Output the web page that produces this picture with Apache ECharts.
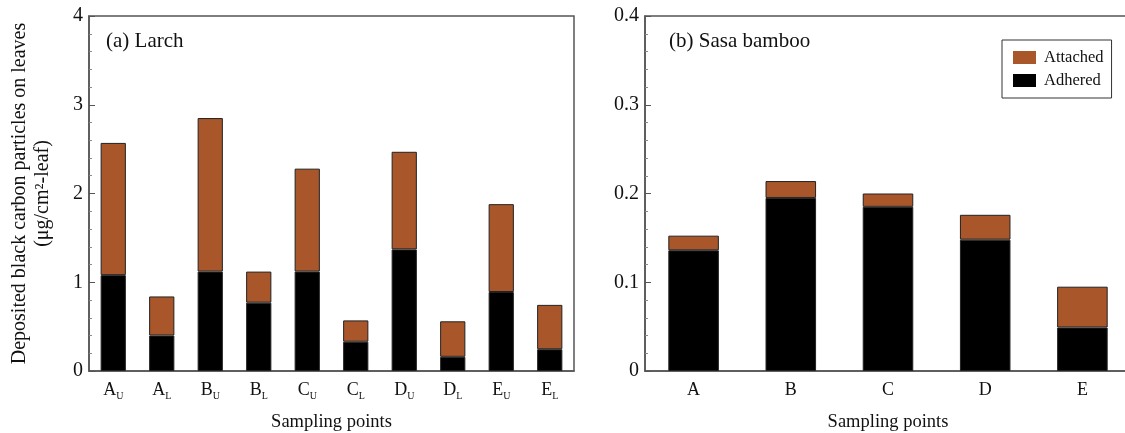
<!DOCTYPE html>
<html>
<head>
<meta charset="utf-8">
<script src="https://cdn.jsdelivr.net/npm/echarts@6/dist/echarts.min.js"></script>
<style>
  html, body { margin: 0; padding: 0; background: #fff; }
  #chart { width: 1125px; height: 433px; }
</style>
</head>
<body>
<div id="chart"></div>
<script>
// (a) Larch
const larchSites = ['A', 'A', 'B', 'B', 'C', 'C', 'D', 'D', 'E', 'E'];
const larchLevels = ['U', 'L', 'U', 'L', 'U', 'L', 'U', 'L', 'U', 'L'];
const larchAdhered = [1.08, 0.40, 1.12, 0.77, 1.12, 0.33, 1.37, 0.16, 0.89, 0.245];
const larchAttached = [1.49, 0.44, 1.73, 0.35, 1.16, 0.24, 1.10, 0.40, 0.99, 0.50];

// (b) Sasa bamboo
const sasaSites = ['A', 'B', 'C', 'D', 'E'];
const sasaAdhered = [0.136, 0.195, 0.185, 0.148, 0.049];
const sasaAttached = [0.0165, 0.019, 0.015, 0.028, 0.046];

const larchCats = larchSites.map((s, i) => s + '_' + larchLevels[i]);

const serif = '"Liberation Serif", "DejaVu Serif", serif';
const brown = '#A9572A';
const black = '#000000';
const frame = '#555555';

const chart = echarts.init(document.getElementById('chart'));

const valueAxisBase = {
  type: 'value',
  min: 0,
  axisLine: { show: true, lineStyle: { color: frame, width: 1.5 } },
  axisTick: { show: true, inside: true, length: 6, lineStyle: { color: frame } },
  minorTick: { show: true, splitNumber: 5, length: 3, lineStyle: { color: '#888' } },
  splitLine: { show: false },
  axisLabel: { color: '#111', fontFamily: serif, fontSize: 20, margin: 6 }
};

const catAxisBase = {
  type: 'category',
  axisLine: { show: true, lineStyle: { color: frame, width: 1.5 } },
  axisTick: { show: false },
  name: 'Sampling points',
  nameLocation: 'middle',
  nameGap: 42,
  nameTextStyle: { color: '#111', fontFamily: serif, fontSize: 18.5 }
};

const barBorder = { borderColor: '#222', borderWidth: 1 };

const option = {
  animation: false,
  textStyle: { fontFamily: serif },
  grid: [
    { left: 89, right: 551, top: 16, bottom: 62, show: true, borderColor: frame, borderWidth: 1.5, outerBoundsMode: 'none' },
    { left: 645, right: -6, top: 16, bottom: 62, show: true, borderColor: frame, borderWidth: 1.5, outerBoundsMode: 'none' }
  ],
  title: [
    { text: '(a) Larch', left: 101, top: 26, textStyle: { fontFamily: serif, fontSize: 21, fontWeight: 'normal', color: '#111' } },
    { text: '(b) Sasa bamboo', left: 664, top: 26, textStyle: { fontFamily: serif, fontSize: 21, fontWeight: 'normal', color: '#111' } }
  ],
  legend: {
    orient: 'vertical',
    left: 1002,
    top: 40,
    data: ['Attached', 'Adhered'],
    icon: 'rect',
    itemWidth: 23,
    itemHeight: 13,
    itemGap: 6,
    padding: [9, 8, 9, 11],
    borderColor: '#333',
    borderWidth: 1,
    itemStyle: { borderWidth: 0 },
    textStyle: { fontFamily: serif, fontSize: 16.5, color: '#111', padding: [0, 0, 0, 3] }
  },
  xAxis: [
    Object.assign({}, catAxisBase, {
      gridIndex: 0,
      data: larchCats,
      axisLabel: {
        interval: 0,
        margin: 10,
        formatter: v => {
          const p = v.split('_');
          return '{m|' + p[0] + '}{s|' + p[1] + '}';
        },
        rich: {
          m: { fontFamily: serif, fontSize: 18, color: '#111', verticalAlign: 'bottom' },
          s: { fontFamily: serif, fontSize: 10, color: '#111', verticalAlign: 'bottom', padding: [0, 0, -2, 0] }
        }
      }
    }),
    Object.assign({}, catAxisBase, {
      gridIndex: 1,
      data: sasaSites,
      axisLabel: { interval: 0, margin: 10, color: '#111', fontFamily: serif, fontSize: 18 }
    })
  ],
  yAxis: [
    Object.assign({}, valueAxisBase, {
      gridIndex: 0,
      max: 4,
      interval: 1,
      name: 'Deposited black carbon particles on leaves\n(μg/cm²-leaf)',
      nameLocation: 'middle',
      nameRotate: 90,
      nameGap: 35,
      nameTextStyle: { color: '#111', fontFamily: serif, fontSize: 20, lineHeight: 23 }
    }),
    Object.assign({}, valueAxisBase, {
      gridIndex: 1,
      max: 0.4,
      interval: 0.1
    })
  ],
  series: [
    {
      name: 'Adhered', type: 'bar', stack: 'a', xAxisIndex: 0, yAxisIndex: 0,
      barWidth: '52%', itemStyle: Object.assign({ color: black }, barBorder),
      data: larchAdhered
    },
    {
      name: 'Attached', type: 'bar', stack: 'a', xAxisIndex: 0, yAxisIndex: 0,
      barWidth: '52%', itemStyle: Object.assign({ color: brown }, barBorder),
      data: larchAttached
    },
    {
      name: 'Adhered', type: 'bar', stack: 'b', xAxisIndex: 1, yAxisIndex: 1,
      barWidth: '52%', itemStyle: Object.assign({ color: black }, barBorder),
      data: sasaAdhered
    },
    {
      name: 'Attached', type: 'bar', stack: 'b', xAxisIndex: 1, yAxisIndex: 1,
      barWidth: '52%', itemStyle: Object.assign({ color: brown }, barBorder),
      data: sasaAttached
    }
  ]
};

chart.setOption(option);
</script>
</body>
</html>
